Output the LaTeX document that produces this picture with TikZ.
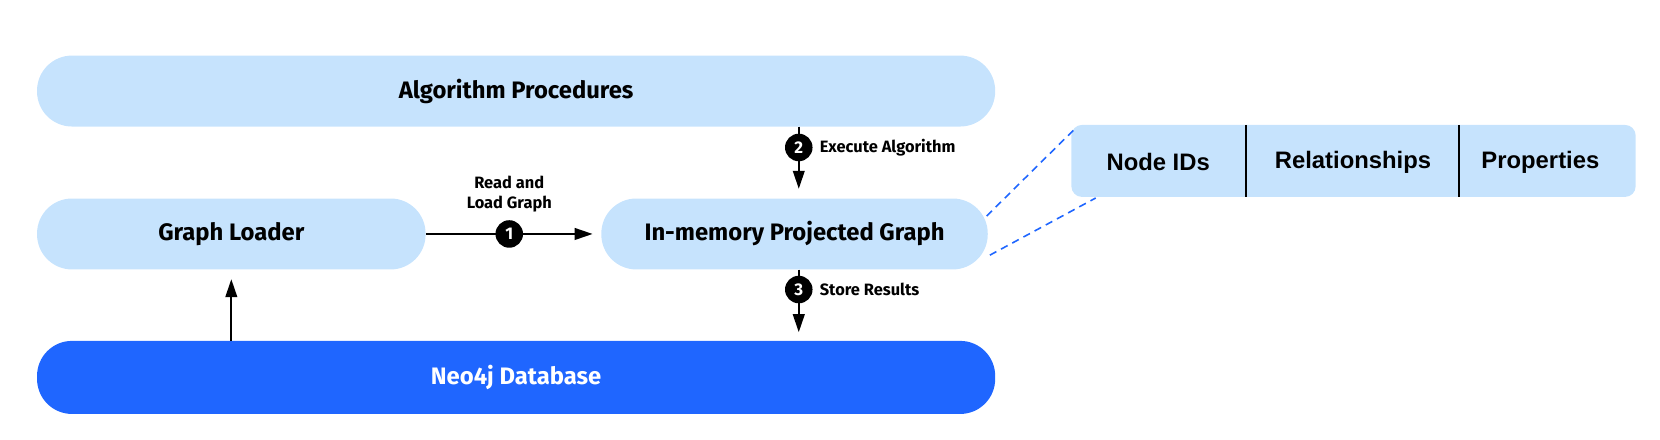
\documentclass[tikz,border=0pt]{standalone}
\usepackage{fontspec}
\setmainfont{Fira Sans}
\newfontfamily\tablefont{Liberation Sans}
\usetikzlibrary{arrows.meta}
\definecolor{paleblue}{HTML}{C6E3FD}
\definecolor{neoblue}{HTML}{1F66FF}
\begin{document}
\begin{tikzpicture}[x=1pt, y=-1pt,
    pill/.style={rectangle, fill=paleblue, rounded corners=33pt, minimum height=67pt, inner sep=0pt, font=\fontsize{22.5}{27}\selectfont\bfseries},
    num/.style={circle, fill=black, text=white, minimum size=26pt, inner sep=0pt, font=\fontsize{16}{18}\selectfont\bfseries},
    lbl/.style={font=\fontsize{15.5}{19}\selectfont\bfseries, inner sep=0pt},
    arr/.style={line width=1.9pt, -{Triangle[length=17pt, width=11pt]}},
    cell/.style={font=\tablefont\fontsize{22.5}{27}\selectfont\bfseries, inner sep=0pt}]
    \useasboundingbox (0,0) rectangle (1568,415.6);

    \node[pill, minimum width=905pt] at (487.5, 86) (algo) {Algorithm Procedures};
    \node[pill, minimum width=367pt] at (218.5, 221) (loader) {Graph Loader};
    \node[pill, minimum width=365pt] at (750.5, 221) (inmem) {In-memory Projected Graph};
    \node[pill, minimum width=905pt, fill=neoblue, text=white, minimum height=69pt] at (487.5, 356.5) (neo) {Neo4j Database};

    % projected graph layout
    \node[rectangle, fill=paleblue, rounded corners=10pt, minimum width=533pt, minimum height=68pt] at (1278.5, 152) (table) {};
    \node[cell] at (1094, 153) (ids) {Node IDs};
    \node[cell] at (1278, 153) (rels) {Relationships};
    \node[cell] at (1455, 153) (props) {Properties};
    \draw[line width=1.2pt] (1177, 118) -- (1177, 186);
    \draw[line width=1.2pt] (1378, 118) -- (1378, 186);
    \draw[neoblue, line width=1.5pt, dash pattern=on 7pt off 5pt] (932, 204) -- (1017, 120);
    \draw[neoblue, line width=1.5pt, dash pattern=on 7pt off 5pt] (935, 241) -- (1035, 187);

    % steps
    \draw[arr, shorten >=8pt] (loader.east) -- node[pos=0.476, num, label={[lbl, align=center, label distance=6pt]above:Read and\\Load Graph}] (s1) {1} (inmem.west);
    \draw[arr, shorten >=9pt] ([xshift=4pt]inmem.north |- algo.south) -- node[pos=0.29, num, label={[lbl, label distance=5pt]right:Execute Algorithm}] (s2) {2} ([xshift=4pt]inmem.north);
    \draw[arr, shorten >=8pt] ([xshift=4pt]inmem.south) -- node[pos=0.28, num, label={[lbl, label distance=5pt]right:Store Results}] (s3) {3} ([xshift=4pt]inmem.south |- neo.north);
    \draw[arr, shorten >=9pt] (loader.south |- neo.north) -- (loader.south);
\end{tikzpicture}
\end{document}
